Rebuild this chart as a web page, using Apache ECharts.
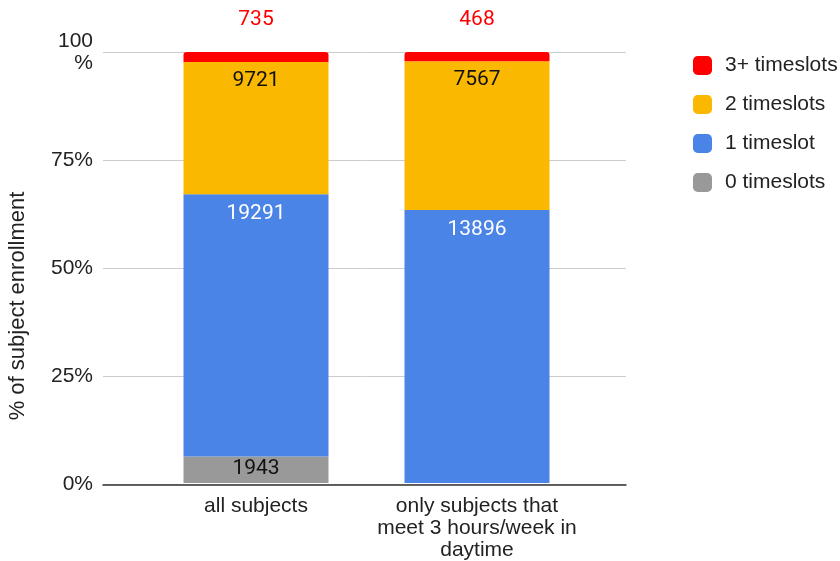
<!DOCTYPE html>
<html>
<head>
<meta charset="utf-8">
<script src="https://cdn.jsdelivr.net/npm/echarts@6/dist/echarts.min.js"></script>
<style>html,body{margin:0;padding:0;background:#fff}#c{width:840px;height:561px}</style>
</head>
<body>
<div id="c"></div>
<script>
var categories = ['all subjects', 'only subjects that\nmeet 3 hours/week in\ndaytime'];
var zeroSlots = [1943, 0];
var oneSlot = [19291, 13896];
var twoSlots = [9721, 7567];
var threePlus = [735, 468];
var yTicks = [0, 25, 50, 75, 100];

var totals = categories.map(function (_, i) {
  return zeroSlots[i] + oneSlot[i] + twoSlots[i] + threePlus[i];
});
function pct(arr) { return arr.map(function (v, i) { return v / totals[i] * 100; }); }
function lab(arr) { return function (p) { var v = arr[p.dataIndex]; return v ? String(v) : ''; }; }

var FONT = '"Liberation Sans", Arial, sans-serif';
var LFONT = 'Roboto, sans-serif';
var chart = echarts.init(document.getElementById('c'));
chart.setOption({
  animation: false,
  textStyle: { fontFamily: FONT },
  grid: [
    { left: 103, right: 214, top: 52, bottom: 76.5 },
    { left: 145.5, right: 252.5, top: 52, bottom: 76.5 }
  ],
  graphic: [{
    type: 'text', x: 18, y: 306, rotation: Math.PI / 2,
    style: { text: '% of subject enrollment', fontSize: 22, fontFamily: FONT, fill: '#222',
      textAlign: 'center', textVerticalAlign: 'middle' }
  }],
  legend: {
    orient: 'vertical', left: 688, top: 50, itemWidth: 19, itemHeight: 19, itemGap: 18,
    icon: 'roundRect',
    textStyle: { fontSize: 21, color: '#222', fontFamily: FONT, padding: [0, 0, 0, 8] },
    data: ['3+ timeslots', '2 timeslots', '1 timeslot', '0 timeslots']
  },
  xAxis: [
    { type: 'category', gridIndex: 0, data: ['a'], show: true,
      axisLine: { show: true, lineStyle: { color: '#333', width: 1.5 } },
      axisTick: { show: false }, axisLabel: { show: false } },
    { type: 'category', gridIndex: 1, data: categories,
      axisLine: { show: false }, axisTick: { show: false },
      axisLabel: { interval: 0, hideOverlap: false, fontSize: 21, color: '#222', lineHeight: 22, margin: 12, fontFamily: FONT } }
  ],
  yAxis: [
    { type: 'value', gridIndex: 0, min: 0, max: 100, interval: 25,
      axisLine: { show: false }, axisTick: { show: false },
      splitLine: { lineStyle: { color: '#cccccc', width: 1 } },
      axisLabel: { fontSize: 21, color: '#222', margin: 10, lineHeight: 22, fontFamily: FONT,
        formatter: function (v) { return yTicks.indexOf(v) < 0 ? '' : (v === 100 ? '100\n%' : v + '%'); } } },
    { type: 'value', gridIndex: 1, min: 0, max: 100, show: false }
  ],
  series: [
    { name: '0 timeslots', type: 'bar', stack: 's', xAxisIndex: 1, yAxisIndex: 1, barWidth: 145,
      itemStyle: { color: '#999999' }, data: pct(zeroSlots),
      label: { show: true, position: 'insideTop', distance: 2, fontSize: 21, color: '#111', fontFamily: LFONT, formatter: lab(zeroSlots) } },
    { name: '1 timeslot', type: 'bar', stack: 's', xAxisIndex: 1, yAxisIndex: 1, barWidth: 145,
      itemStyle: { color: '#4a84e6' }, data: pct(oneSlot),
      label: { show: true, position: 'insideTop', distance: 9, fontSize: 21, color: '#fff', fontFamily: LFONT, formatter: lab(oneSlot) } },
    { name: '2 timeslots', type: 'bar', stack: 's', xAxisIndex: 1, yAxisIndex: 1, barWidth: 145,
      itemStyle: { color: '#fbb800' }, data: pct(twoSlots),
      label: { show: true, position: 'insideTop', distance: 8, fontSize: 21, color: '#111', fontFamily: LFONT, formatter: lab(twoSlots) } },
    { name: '3+ timeslots', type: 'bar', stack: 's', xAxisIndex: 1, yAxisIndex: 1, barWidth: 145,
      itemStyle: { color: '#ff0000', borderRadius: [3, 3, 0, 0] }, data: pct(threePlus),
      label: { show: true, position: 'top', distance: 22, fontSize: 21, color: '#ff0000', fontFamily: LFONT, formatter: lab(threePlus) } }
  ]
});
</script>
</body>
</html>
